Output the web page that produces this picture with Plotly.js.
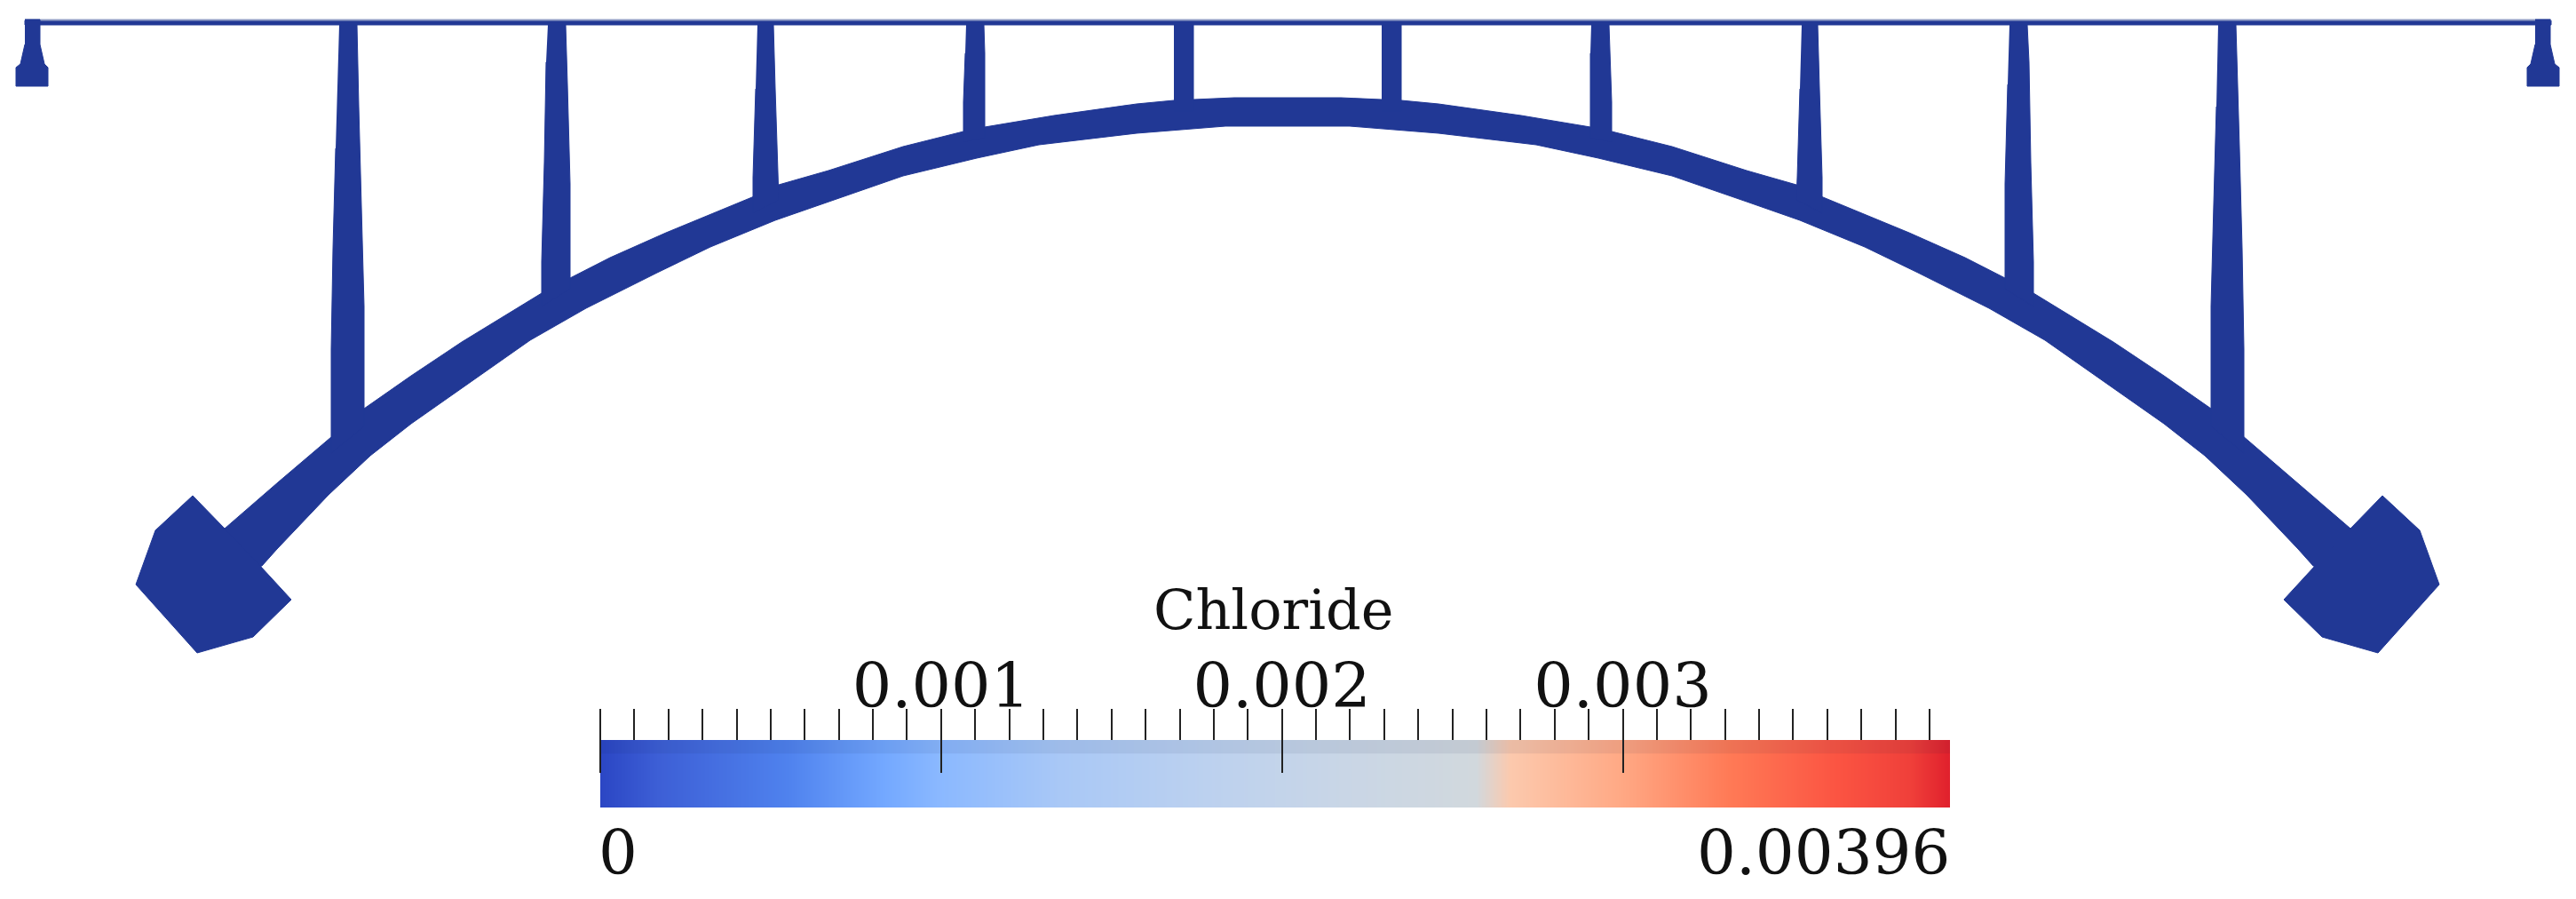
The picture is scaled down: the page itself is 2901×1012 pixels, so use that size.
<!DOCTYPE html>
<html>
<head>
<meta charset="utf-8">
<script src="https://cdn.plot.ly/plotly-3.0.1.min.js"></script>
<style>html,body{margin:0;padding:0;background:#fff;overflow:hidden}#chart{width:2901px;height:1012px}</style>
</head>
<body>
<div id="chart"></div>
<script>
// Structure outline (model units on a 2901 x 1012 sheet)
const deckX = [28, 2873, 2873, 28, 28];
const deckY = [23, 23, 28, 28, 23];
const deckEdgeX = [28, 2873];
const deckEdgeY = [22.5, 22.5];

const archX = [253,313,373,410,463,520,610,642,687,750,847,877,933,1017,1085,1109,1187,1280,1322,1344,1390,1510,1556,1578,1620,1713,1791,1815,1883,1967,2023,2053,2150,2213,2258,2290,2380,2437,2490,2527,2587,2647,
               2670,2605,2588,2530,2483,2437,2370,2303,2240,2160,2100,2027,1967,1883,1800,1730,1620,1567,1520,1380,1333,1280,1170,1100,1017,933,873,800,740,660,597,530,463,417,370,312,295,230,253];
const archY = [595,543,492,460,423,385,330,313,290,262,222,208,192,165,148,143,130,117,113,112,110,110,112,113,117,130,143,148,165,192,208,222,262,290,313,330,385,423,460,492,543,595,
               650,637,618,557,513,477,430,383,347,307,278,248,227,198,178,163,150,146,142,142,146,150,163,178,198,227,248,278,307,347,383,430,477,513,557,618,637,650,595];

const footLeftX = [253,217,175,168,153,222,285,328,293];
const footLeftY = [595,558,597,617,658,735,717,675,637];
const footRightX = [2647,2683,2725,2732,2747,2678,2615,2572,2607];
const footRightY = [595,558,597,617,658,735,717,675,637];

const hangerX = [
  382,402,404,407,410,410,373,373,375,378,null,
  617,637,639,642,642,610,610,613,615,null,
  853,871,873,876,877,848,848,851,null,
  1088,1108,1109,1109,1085,1085,1087,null,
  1322,1344,1344,1322,null,
  1556,1578,1578,1556,null,
  1792,1812,1815,1815,1791,1791,1791,null,
  2029,2047,2049,2052,2052,2023,2024,2027,null,
  2263,2283,2285,2287,2290,2290,2258,2258,2261,null,
  2498,2518,2522,2525,2527,2527,2490,2490,2493,2496];
const hangerY = [
  28,28,120,230,345,480,510,393,280,167,null,
  28,28,95,207,325,345,295,183,70,null,
  28,28,100,200,225,240,200,100,null,
  28,28,60,155,160,115,60,null,
  28,28,125,125,null,
  28,28,125,125,null,
  28,28,115,160,155,60,60,null,
  28,28,100,200,240,225,200,100,null,
  28,28,70,183,295,345,325,207,95,null,
  28,28,167,280,393,510,480,345,230,120];

const bearingX = [28,45,45,50,54,54,18,18,23,28,null,2855,2872,2872,2877,2882,2882,2846,2846,2850,2855];
const bearingY = [22,22,50,72,76,97,97,76,72,50,null,22,22,50,72,76,97,97,76,72,50];

// Colour legend
const legendTitle = "Chloride";
const legendMin = 0;
const legendMax = 0.00396;
const majorTicks = [0, 0.001, 0.002, 0.003];
const majorLabels = ["", "0.001", "0.002", "0.003"];
const minorStep = 0.0001;
const barValues = [0,0.00017,0.00055,0.00083,0.00099,0.00135,0.00178,0.00218,0.00257,0.00267,0.00299,0.00331,0.00363,0.00384,0.00396];
const barColors = ["#2b46c4","#3d5fd6","#4f82ee","#73a8ff","#8ab8ff","#a9c8f6","#bcd1ef","#c9d6e6","#d1d8dd","#fcc9ad","#ffa985","#ff7a56","#fb5442","#f0403a","#e0202c"];

const ink = "#213895";
const serif = '"DejaVu Serif", serif';
const poly = (x, y) => ({x, y, mode:"lines", fill:"toself", fillcolor:ink, line:{color:ink, width:1}, hoverinfo:"skip", showlegend:false, xaxis:"x", yaxis:"y"});

const colorscale = barValues.map((v,i)=>[v/legendMax, barColors[i]]);

const traces = [
  poly(deckX, deckY),
  {x:deckEdgeX, y:deckEdgeY, mode:"lines", line:{color:"#8f9cc4", width:2}, hoverinfo:"skip", showlegend:false},
  poly(archX, archY),
  poly(footLeftX, footLeftY),
  poly(footRightX, footRightY),
  poly(hangerX, hangerY),
  poly(bearingX, bearingY),
  {type:"heatmap", x:barValues, y:[0,1], z:[barValues,barValues], zmin:legendMin, zmax:legendMax, zsmooth:"best", colorscale, showscale:false, hoverinfo:"skip", xaxis:"x2", yaxis:"y2"},
  {x:[legendMin], y:[0], mode:"markers", marker:{size:1, opacity:0}, hoverinfo:"skip", showlegend:false, xaxis:"x3", yaxis:"y2"}
];

const W = 2901, H = 1012;
const px = v => v / W, py = v => 1 - v / H;

const layout = {
  width:W, height:H, margin:{l:0,r:0,t:0,b:0}, paper_bgcolor:"#fff", plot_bgcolor:"#fff", showlegend:false,
  font:{family:serif, color:"#111"},
  xaxis:{range:[0,W], domain:[0,1], visible:false, fixedrange:true},
  yaxis:{range:[H,0], domain:[0,1], visible:false, fixedrange:true},
  xaxis2:{domain:[px(676),px(2196)], range:[legendMin,legendMax], anchor:"free", position:py(870), side:"top",
          tickmode:"array", tickvals:majorTicks, ticktext:majorLabels, ticks:"outside", ticklen:72, tickwidth:2, tickcolor:"#222",
          ticklabelstandoff:-26,
          showgrid:false, zeroline:false, showline:false, tickfont:{family:serif, size:70, color:"#111"}, tickangle:0},
  xaxis3:{domain:[px(676),px(2196)], range:[legendMin,legendMax], anchor:"free", position:py(833), side:"top", overlaying:"x2",
          tick0:0, dtick:minorStep, ticks:"outside", ticklen:35, tickwidth:2, tickcolor:"#222", showticklabels:false,
          showgrid:false, zeroline:false, showline:false},
  yaxis2:{domain:[py(909),py(833)], range:[0,1], visible:false, anchor:"x2", fixedrange:true},
  shapes:[{type:"rect", xref:"x2", yref:"y2", x0:legendMin, x1:legendMax, y0:0.8, y1:1, fillcolor:"rgba(20,30,70,0.07)", line:{width:0}, layer:"above"}],
  annotations:[
    {text:legendTitle, xref:"x", yref:"y", x:1434, y:725, xanchor:"center", yanchor:"bottom", showarrow:false, font:{family:serif, size:62, color:"#111"}},
    {text:String(legendMin), xref:"x2", yref:"y", x:legendMin, xshift:-4, y:918, xanchor:"left", yanchor:"top", showarrow:false, font:{family:serif, size:69, color:"#111"}},
    {text:String(legendMax), xref:"x2", yref:"y", x:legendMax, xshift:2, y:918, xanchor:"right", yanchor:"top", showarrow:false, font:{family:serif, size:69, color:"#111"}}
  ]
};

Plotly.newPlot("chart", traces, layout, {staticPlot:true, displayModeBar:false});
</script>
</body>
</html>
